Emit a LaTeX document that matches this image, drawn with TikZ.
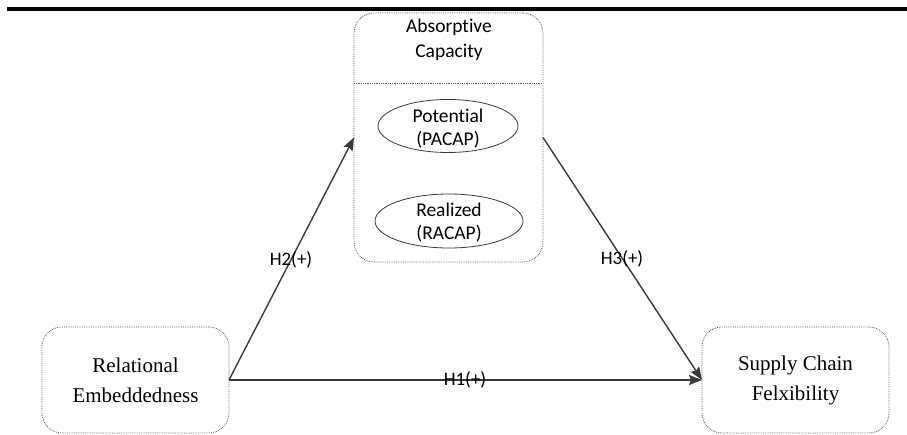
\documentclass[tikz,border=0pt]{standalone}
\usepackage{fontspec}
\setmainfont{Liberation Serif}
\newfontfamily\calfont[Ligatures=NoCommon]{Carlito}
\usetikzlibrary{arrows.meta,shapes.geometric}
\definecolor{linegray}{HTML}{3A3A3A}
\definecolor{boxgray}{HTML}{555555}
\tikzset{
  boxframe/.style={draw=boxgray, densely dotted, line width=0.8pt, rounded corners=20pt, inner sep=0pt, outer sep=0pt},
  ovalbox/.style={draw=linegray, ellipse, line width=0.8pt, inner sep=0pt, outer sep=0pt},
  ovaltext/.style={align=center, inner sep=0pt, font=\calfont\fontsize{19.5}{23}\selectfont},
  serifbox/.style={boxframe, align=center, font=\fontsize{21}{30}\selectfont, minimum width=187pt, minimum height=106pt},
  conn/.style={draw=linegray, line width=1.4pt, -{Stealth[length=13pt,width=10pt,inset=2pt]}},
  hlabel/.style={font=\calfont\fontsize{19}{22}\selectfont, inner sep=0pt}
}
\begin{document}
\begin{tikzpicture}[x=1pt,y=-1pt]
\useasboundingbox (0,0) rectangle (907,435);
\fill[black] (7,7) rectangle (907,11);
% absorptive capacity container
\node[boxframe, minimum width=189pt, minimum height=249pt] (abs) at (448.5,137.5) {};
\coordinate (divl) at (354,83);
\coordinate (divr) at (543,83);
\draw[draw=boxgray, densely dotted, line width=0.8pt] (divl) -- (divr);
\node[font=\calfont\fontsize{19.5}{25}\selectfont, align=center, inner sep=0pt] (abstitle) at (449,40) {Absorptive\\Capacity};
\node[ovalbox, minimum width=140pt, minimum height=53pt] (pacap) at (448,126) {};
\node[ovaltext] (pacapt) at (448,128.5) {Potential\\(PACAP)};
\node[ovalbox, minimum width=148pt, minimum height=54pt] (racap) at (449,221) {};
\node[ovaltext] (racapt) at (449,223) {Realized\\(RACAP)};
% outer boxes
\node[serifbox] (rel) at (135.5,380) {Relational\\Embeddedness};
\node[serifbox] (sup) at (795.5,380) {Supply Chain\\Felxibility};
% connectors
\draw[conn] (rel.east) -- (sup.west);
\draw[conn] (rel.east) -- (abs.west);
\draw[conn] (abs.east) -- (sup.west);
% labels
\node[hlabel] (h2) at (291,260) {H2(+)};
\node[hlabel] (h3) at (622,259) {H3(+)};
\node[hlabel] (h1) at (465,380) {H1(+)};
\end{tikzpicture}
\end{document}
